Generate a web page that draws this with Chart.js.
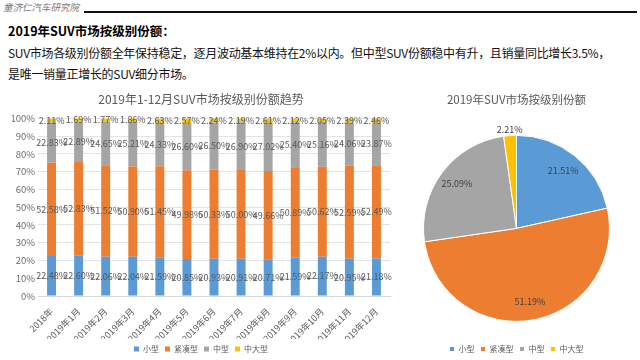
<!DOCTYPE html>
<html>
<head>
<meta charset="utf-8">
<script src="https://cdn.jsdelivr.net/npm/chart.js@4"></script>
<style>
  body { margin: 0; background: #fff; font-family: "Noto Sans CJK SC", sans-serif; }
  #page { position: relative; width: 640px; height: 360px; overflow: hidden; }
  #brand { position: absolute; left: 3px; top: 0px; font-size: 9.5px; font-style: italic; color: #777; }
  #rule { position: absolute; left: 84px; top: 11px; width: 553px; height: 2px; background: #111; }
  #head { position: absolute; left: 8px; top: 21px; font-size: 12.5px; font-weight: bold; color: #000; }
  #body { position: absolute; left: 8px; top: 42px; white-space: nowrap; font-size: 12px; letter-spacing: -0.3px; line-height: 21px; color: #111; }
  #barBox { position: absolute; left: 0; top: 88px; width: 400px; height: 275px; }
  #pieBox { position: absolute; left: 410px; top: 88px; width: 230px; height: 275px; }
</style>
</head>
<body>
<div id="page">
  <div id="brand">童济仁汽车研究院</div>
  <div id="rule"></div>
  <div id="head">2019年SUV市场按级别份额：</div>
  <div id="body">SUV市场各级别份额全年保持稳定，逐月波动基本维持在2%以内。但中型SUV份额稳中有升，且销量同比增长3.5%，<br>是唯一销量正增长的SUV细分市场。</div>
  <div id="barBox"><canvas id="barChart" width="400" height="275"></canvas></div>
  <div id="pieBox"><canvas id="pieChart" width="230" height="275"></canvas></div>
</div>
<script>
const months = ['2018年', '2019年1月', '2019年2月', '2019年3月', '2019年4月', '2019年5月', '2019年6月',
  '2019年7月', '2019年8月', '2019年9月', '2019年10月', '2019年11月', '2019年12月'];
const small = [22.48, 22.60, 22.06, 22.04, 21.59, 20.85, 20.93, 20.91, 20.71, 21.59, 22.17, 20.95, 21.18];
const compact = [52.58, 52.83, 51.52, 50.90, 51.45, 49.98, 50.33, 50.00, 49.66, 50.89, 50.62, 52.59, 52.49];
const mid = [22.83, 22.89, 24.65, 25.21, 24.33, 26.60, 26.50, 26.90, 27.02, 25.40, 25.16, 24.06, 23.87];
const large = [2.11, 1.69, 1.77, 1.86, 2.63, 2.57, 2.24, 2.19, 2.61, 2.12, 2.05, 2.39, 2.46];

const classes = ['小型', '紧凑型', '中型', '中大型'];
const share2019 = [21.51, 51.19, 25.09, 2.21];
const yTicks = [0, 10, 20, 30, 40, 50, 60, 70, 80, 90, 100];

const colors = ['#5B9BD5', '#ED7D31', '#A5A5A5', '#FFC000'];
const FONT = '"Noto Sans CJK SC", sans-serif';

// draws the % text on each segment / slice
const segLabels = {
  id: 'segLabels',
  afterDatasetsDraw(chart) {
    const ctx = chart.ctx;
    ctx.save();
    ctx.font = '9px ' + FONT;
    ctx.textAlign = 'center';
    ctx.textBaseline = 'middle';
    chart.data.datasets.forEach((ds, i) => {
      const meta = chart.getDatasetMeta(i);
      meta.data.forEach((el, j) => {
        const txt = ds.data[j].toFixed(2) + '%';
        if (chart.config.type === 'bar') {
          ctx.fillStyle = '#595959';
          ctx.fillText(txt, el.x, (el.y + el.base) / 2);
        } else {
          const mid = (el.startAngle + el.endAngle) / 2;
          const outside = ds.data[j] < 5;
          const d = outside ? el.outerRadius + 6 : el.outerRadius * 0.8;
          ctx.fillStyle = '#404040';
          ctx.fillText(txt, el.x + Math.cos(mid) * d, el.y + Math.sin(mid) * d);
        }
      });
    });
    ctx.restore();
  }
};

const legendOpts = {
  position: 'bottom',
  labels: { boxWidth: 5, boxHeight: 5, padding: 6, color: '#595959', font: { family: FONT, size: 8 } }
};

new Chart(document.getElementById('barChart'), {
  type: 'bar',
  data: {
    labels: months,
    datasets: [small, compact, mid, large].map((arr, i) => ({
      label: classes[i],
      data: arr,
      backgroundColor: colors[i],
      barPercentage: 0.33,
      categoryPercentage: 1
    }))
  },
  options: {
    responsive: false,
    animation: false,
    layout: { padding: { left: 12, right: 10, top: 0, bottom: 0 } },
    plugins: {
      title: { display: true, text: '2019年1-12月SUV市场按级别份额趋势', color: '#595959',
        font: { family: FONT, size: 12, weight: 'normal' }, padding: { top: 4, bottom: 12 } },
      legend: legendOpts,
      tooltip: { enabled: false }
    },
    scales: {
      x: {
        stacked: true,
        afterFit: (ax) => { ax.height = 43; },
        grid: { display: false },
        border: { color: '#D9D9D9' },
        ticks: { color: '#595959', padding: 2, font: { family: FONT, size: 9 }, minRotation: 45, maxRotation: 45 }
      },
      y: {
        stacked: true,
        min: 0, max: 100,
        afterFit: (ax) => { ax.width = 26; },
        afterBuildTicks: (ax) => { ax.ticks = yTicks.map(v => ({ value: v })); },
        grid: { color: '#E3E3E3', drawTicks: false },
        border: { display: false },
        ticks: { color: '#6B6B6B', padding: 3, font: { family: FONT, size: 9.5 }, callback: v => v + '%' }
      }
    }
  },
  plugins: [segLabels]
});

new Chart(document.getElementById('pieChart'), {
  type: 'pie',
  data: {
    labels: classes,
    datasets: [{ data: share2019, backgroundColor: colors, borderColor: '#fff', borderWidth: 1 }]
  },
  options: {
    responsive: false,
    animation: false,
    layout: { padding: { left: 13, right: 30, top: 0, bottom: 0 } },
    plugins: {
      title: { display: true, text: '2019年SUV市场按级别份额', color: '#595959',
        font: { family: FONT, size: 11.5, weight: 'normal' }, padding: { top: 5, bottom: 11 } },
      legend: legendOpts,
      tooltip: { enabled: false }
    }
  },
  plugins: [segLabels]
});
</script>
</body>
</html>
